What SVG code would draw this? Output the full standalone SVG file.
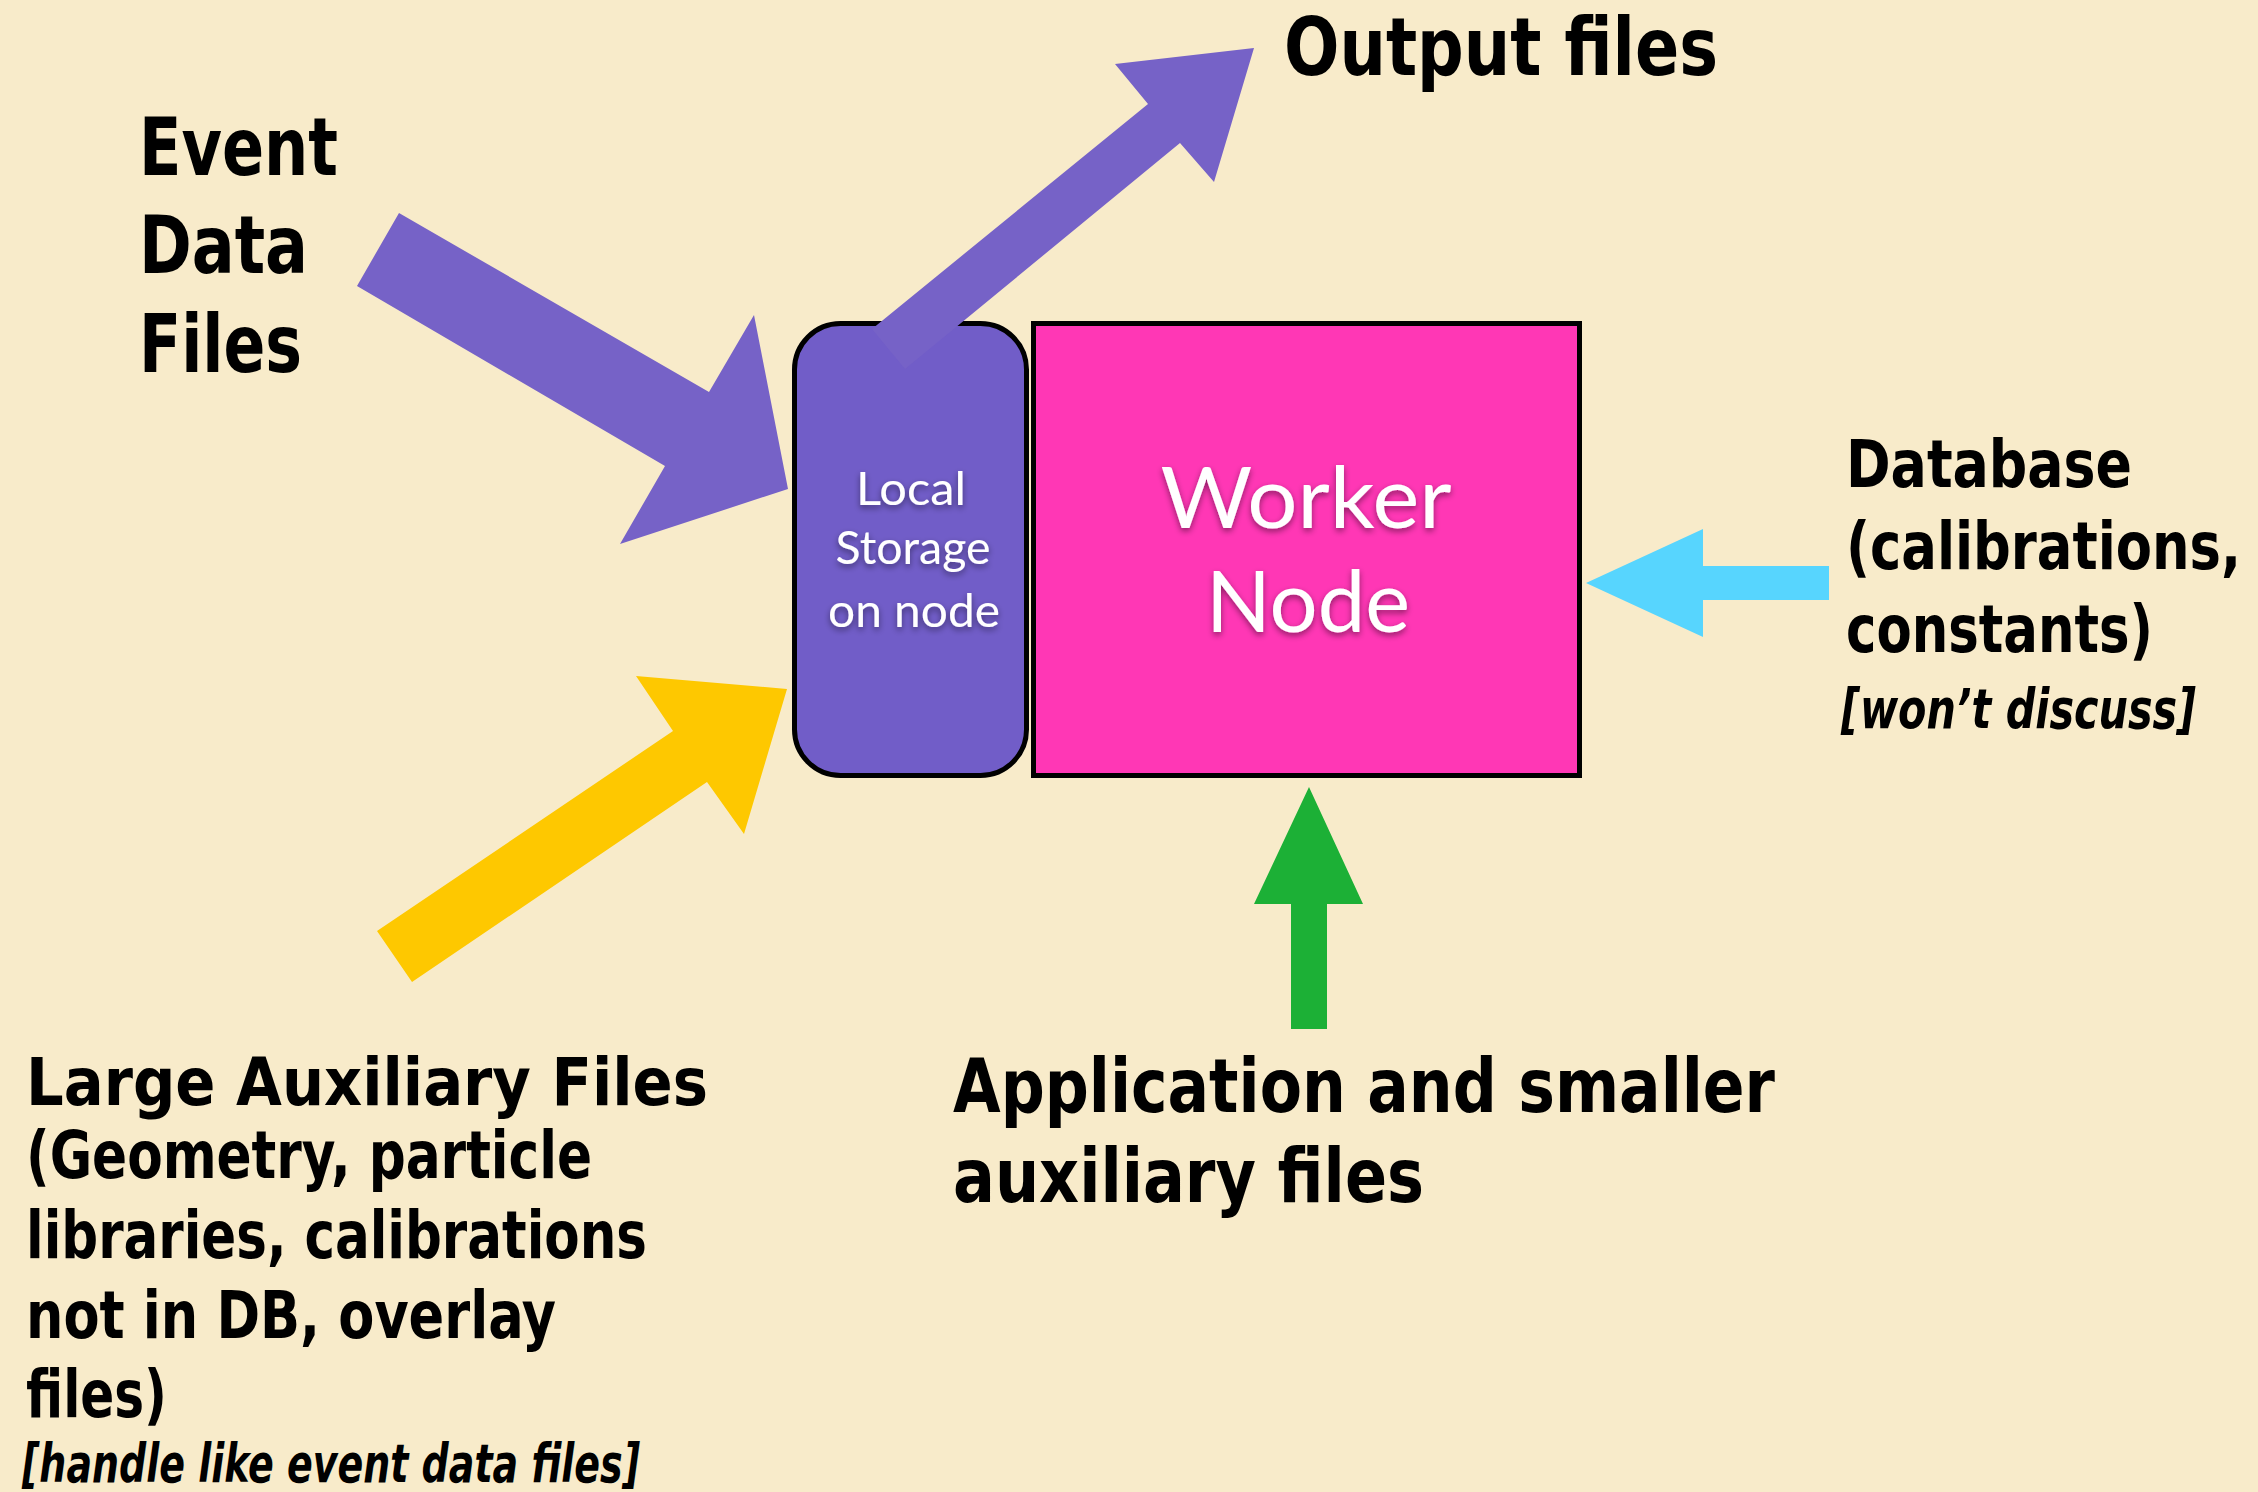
<svg xmlns="http://www.w3.org/2000/svg" width="2258" height="1492" viewBox="0 0 2258 1492">
  <style>
    .lbl { font-family: "DejaVu Sans", "Liberation Sans", sans-serif; font-weight: bold; font-stretch: condensed; fill: #000; }
    .note { font-family: "DejaVu Sans", "Liberation Sans", sans-serif; font-weight: bold; font-style: italic; font-stretch: condensed; fill: #000; }
    .inner { font-family: Lato, "Open Sans", sans-serif; fill: #fff; text-anchor: middle; filter: url(#shadow); }
    .box { stroke: #000; stroke-width: 5; }
  </style>
  <defs>
    <filter id="shadow" x="-20%" y="-20%" width="140%" height="150%">
      <feDropShadow dx="0" dy="3" stdDeviation="3" flood-color="#000" flood-opacity="0.45"/>
    </filter>
  </defs>

  <!-- page background -->
  <rect x="0" y="0" width="2258" height="1492" fill="#F8EBCA"/>

  <!-- central nodes -->
  <g id="local-storage">
    <rect class="box" x="794.5" y="323.5" width="232" height="452" rx="46" ry="46" fill="#715DC8"/>
    <text class="inner" font-size="47" x="911" y="505" textLength="110" lengthAdjust="spacingAndGlyphs">Local</text>
    <text class="inner" font-size="47" x="913" y="564" textLength="155" lengthAdjust="spacingAndGlyphs">Storage</text>
    <text class="inner" font-size="47" x="914" y="627" textLength="172" lengthAdjust="spacingAndGlyphs">on node</text>
  </g>

  <g id="worker-node">
    <rect class="box" x="1033.5" y="323.5" width="546" height="452" fill="#FF37B5"/>
    <text class="inner" font-size="86" x="1306" y="528" textLength="291" lengthAdjust="spacingAndGlyphs">Worker</text>
    <text class="inner" font-size="86" x="1308" y="632" textLength="204" lengthAdjust="spacingAndGlyphs">Node</text>
  </g>

  <!-- block arrows -->
  <g id="connectors">
    <polygon id="event-to-storage" fill="#7662C7" points="399,213 709,392 754,315 788,489 620,544 665,466 357,286"/>
    <polygon id="aux-to-storage" fill="#FEC800" points="377,931 673,731 636,676 787,689 744,834 707,782 412,982"/>
    <polygon id="storage-to-output" fill="#7662C7" points="872,329 1148,104 1115,64 1254,48 1214,182 1180,143 905,369"/>
    <polygon id="db-to-worker" fill="#57D5FE" points="1586,583 1703,529 1703,566 1829,566 1829,600 1703,600 1703,637"/>
    <polygon id="apps-to-worker" fill="#1CB036" points="1309,787 1363,904 1327,904 1327,1029 1291,1029 1291,904 1254,904"/>
  </g>

  <!-- source and sink labels -->
  <g id="event-data-files">
    <text class="lbl" font-size="80" x="139" y="175" textLength="199" lengthAdjust="spacingAndGlyphs">Event</text>
    <text class="lbl" font-size="80" x="139" y="273" textLength="169" lengthAdjust="spacingAndGlyphs">Data</text>
    <text class="lbl" font-size="80" x="139" y="372" textLength="163" lengthAdjust="spacingAndGlyphs">Files</text>
  </g>

  <g id="output-files">
    <text class="lbl" font-size="80" x="1284" y="75" textLength="434" lengthAdjust="spacingAndGlyphs">Output files</text>
  </g>

  <g id="database">
    <text class="lbl" font-size="66" x="1846" y="487" textLength="286" lengthAdjust="spacingAndGlyphs">Database</text>
    <text class="lbl" font-size="66" x="1846" y="569" textLength="395" lengthAdjust="spacingAndGlyphs">(calibrations,</text>
    <text class="lbl" font-size="66" x="1846" y="652" textLength="307" lengthAdjust="spacingAndGlyphs">constants)</text>
    <text class="note" font-size="56" x="1841" y="728" textLength="355" lengthAdjust="spacingAndGlyphs">[won’t discuss]</text>
  </g>

  <g id="large-auxiliary-files">
    <text class="lbl" font-size="66" x="26" y="1105" textLength="682" lengthAdjust="spacingAndGlyphs">Large Auxiliary Files</text>
    <text class="lbl" font-size="66" x="26" y="1178" textLength="566" lengthAdjust="spacingAndGlyphs">(Geometry, particle</text>
    <text class="lbl" font-size="66" x="26" y="1258" textLength="621" lengthAdjust="spacingAndGlyphs">libraries, calibrations</text>
    <text class="lbl" font-size="66" x="26" y="1338" textLength="530" lengthAdjust="spacingAndGlyphs">not in DB, overlay</text>
    <text class="lbl" font-size="66" x="26" y="1417" textLength="141" lengthAdjust="spacingAndGlyphs">files)</text>
    <text class="note" font-size="54" x="22" y="1482" textLength="618" lengthAdjust="spacingAndGlyphs">[handle like event data files]</text>
  </g>

  <g id="application-files">
    <text class="lbl" font-size="74" x="953" y="1112" textLength="822" lengthAdjust="spacingAndGlyphs">Application and smaller</text>
    <text class="lbl" font-size="74" x="953" y="1202" textLength="471" lengthAdjust="spacingAndGlyphs">auxiliary files</text>
  </g>
</svg>
